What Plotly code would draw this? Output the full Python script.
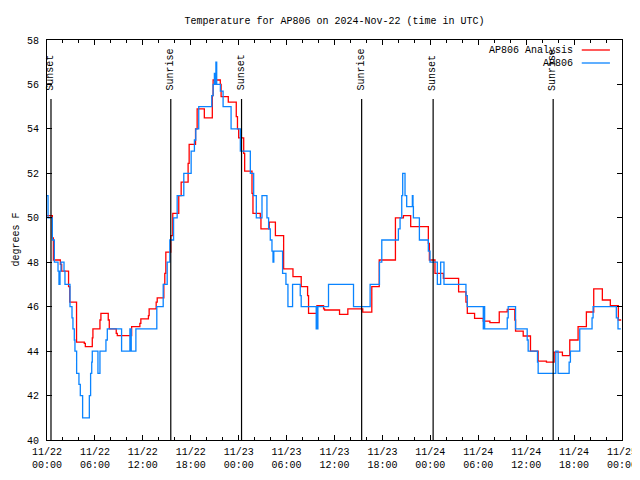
import pandas as pd
import plotly.graph_objects as go

# ---- data (hours after 2024-11-22 00:00 UTC, degrees F) ----
analysis_hours = [0.0, 0.67, 0.8, 1.67, 1.84, 2.7, 2.85, 3.7, 4.67, 4.8, 5.67, 5.75, 6.63, 6.75, 7.67, 7.8,
                  8.67, 8.8, 10.6, 11.63, 11.75, 12.7, 12.79, 13.67, 13.8, 14.63, 14.75, 14.88, 15.5, 15.75,
                  16.5, 16.8, 17.67, 17.8, 18.6, 18.8, 19.7, 20.7, 20.8, 21.7, 21.8, 22.7, 23.7, 23.85, 24.0,
                  24.63, 24.75, 25.67, 25.79, 26.71, 26.79, 27.83, 28.6, 29.63, 30.8, 31.83, 32.63, 32.75,
                  33.8, 34.63, 34.75, 36.63, 37.67, 39.54, 40.67, 41.6, 43.63, 44.63, 45.54, 47.75, 47.88,
                  48.58, 49.63, 51.54, 52.46, 52.63, 53.54, 54.63, 55.46, 56.63, 57.63, 58.58, 58.67, 59.63,
                  60.54, 61.5, 62.54, 63.5, 64.54, 65.46, 66.5, 67.54, 68.46, 69.54, 70.54, 71.54, 71.9]
analysis_temps = [50.1, 49.1, 48.1, 47.9, 47.6, 46.9, 46.2, 44.4, 44.35, 44.2, 44.6, 45.0, 45.4, 45.7, 45.4, 45.0,
                  44.8, 44.7, 45.1, 45.25, 45.45, 45.6, 45.9, 46.2, 46.4, 47.0, 47.5, 48.45, 49.2, 50.2,
                  51.0, 51.6, 52.45, 53.3, 54.0, 54.9, 54.5, 55.5, 56.2, 56.0, 55.45, 55.2, 54.55, 54.0, 53.6,
                  52.9, 52.1, 51.1, 50.2, 50.0, 49.5, 49.8, 49.2, 47.7, 47.35, 46.9, 46.5, 45.7,
                  46.05, 45.9, 45.85, 45.65, 45.9, 45.75, 46.9, 48.1, 50.0, 50.1, 49.6, 48.85, 48.1,
                  47.5, 47.27, 46.67, 46.2, 45.7, 45.47, 45.35, 45.28, 45.77, 45.88, 45.4, 44.9, 44.68,
                  44.0, 43.55, 43.5, 43.95, 43.8, 44.5, 45.1, 45.76, 46.8, 46.3, 46.05, 45.4, 45.4]

obs_hours = [0.0, 0.13, 0.67, 0.92, 1.38, 1.5, 1.63, 1.75, 2.13, 2.25, 2.88, 3.13, 3.25, 3.42, 3.5, 3.71,
             4.0, 4.17, 4.46, 5.3, 5.46, 5.6, 5.67, 6.38, 6.63, 7.38, 7.55, 9.34, 10.38, 10.45, 10.5, 10.55,
             11.13, 13.75, 14.55, 15.05, 15.38, 15.85, 16.3, 17.13, 18.05, 18.46, 18.63, 19.0, 20.63, 20.8,
             20.96, 21.05, 21.15, 21.25, 21.71, 22.05, 23.05, 24.21, 25.46, 25.88, 26.21, 26.92, 27.54,
             27.75, 27.96, 28.17, 28.3, 28.4, 29.5, 29.92, 30.17, 30.75, 31.71, 31.83, 33.71, 33.8, 33.85,
             33.92, 35.25, 38.38, 40.46, 41.63, 41.92, 44.0, 44.21, 44.42, 44.54, 44.83, 45.04, 45.75,
             45.83, 45.88, 46.63, 47.75, 47.96, 48.88, 49.29, 49.71, 52.46, 52.63, 54.63, 54.72, 54.8,
             57.63, 57.75, 58.67, 60.13, 60.25, 61.42, 61.5, 63.71, 64.0, 65.38, 65.54, 66.71, 68.25,
             68.38, 71.29, 71.5, 71.85]
obs_temps = [51, 50, 49, 48, 47.6, 47, 47.6, 48, 47.6, 47, 46, 45.5, 45, 44.5, 44, 43,
             42.5, 42, 41, 42, 43, 43.5, 44, 43, 44, 44.5, 45, 44, 45, 44, 45, 44,
             45, 46, 47, 48, 49, 50, 51, 52, 53, 53.5, 54, 55, 55.5, 56,
             56.5, 56, 57, 56, 55.7, 55, 54, 53, 52, 51, 50, 51, 50,
             49.5, 49, 48.5, 48, 48.5, 47.5, 47, 46, 47, 46.5, 46, 45, 46, 45,
             46, 47, 46, 47, 48, 49, 49.5, 50, 51, 52, 51, 50.5, 51,
             50.5, 50, 49, 48.5, 48, 47, 48, 47, 46.5, 46, 45, 46, 45,
             45.5, 46, 45, 44.5, 44, 43.5, 43, 44, 43, 43.5, 44, 45, 45.5,
             46, 45.5, 45, 45]

sun_event_hours = [0.5, 15.5, 24.36, 39.4, 48.35, 63.38]
sun_event_labels = ["Sunset", "Sunrise", "Sunset", "Sunrise", "Sunset", "Sunrise"]

tick_hours = list(range(0, 73, 6))
tick_labels = ["11/22<br>00:00", "11/22<br>06:00", "11/22<br>12:00", "11/22<br>18:00",
               "11/23<br>00:00", "11/23<br>06:00", "11/23<br>12:00", "11/23<br>18:00",
               "11/24<br>00:00", "11/24<br>06:00", "11/24<br>12:00", "11/24<br>18:00",
               "11/25<br>00:00"]

series_names = ["AP806 Analysis", "AP806"]
series_colors = ["#ff0000", "#0a84ff"]

BASE = pd.Timestamp("2024-11-22 00:00")


def to_time(hours):
    return [BASE + pd.to_timedelta(h, unit="h") for h in hours]


FONT = "Liberation Mono, DejaVu Sans Mono, monospace"

fig = go.Figure()
fig.add_trace(go.Scatter(x=to_time(analysis_hours), y=analysis_temps, mode="lines",
                         line=dict(color=series_colors[0], width=1.3, shape="hv"),
                         name=series_names[0], showlegend=False))
fig.add_trace(go.Scatter(x=to_time(obs_hours), y=obs_temps, mode="lines",
                         line=dict(color=series_colors[1], width=1.3, shape="hv"),
                         name=series_names[1], showlegend=False))

# sunrise / sunset markers
for t, lab in zip(to_time(sun_event_hours), sun_event_labels):
    fig.add_shape(type="line", xref="x", yref="paper", x0=t, x1=t, y0=0, y1=0.8525,
                  line=dict(color="black", width=1.2))
    fig.add_annotation(x=t, xref="x", y=0.868, yref="paper", text=lab, textangle=-90,
                       showarrow=False, xanchor="center", yanchor="bottom",
                       font=dict(family=FONT, size=10, color="black"))

# legend drawn gnuplot-style (text right, sample line on the right)
leg_y = [0.975, 0.9425]
for name, col, yy in zip(series_names, series_colors, leg_y):
    fig.add_annotation(x=0.918, xref="paper", y=yy, yref="paper", text=name, showarrow=False,
                       xanchor="right", yanchor="middle",
                       font=dict(family=FONT, size=10, color="black"))
    fig.add_shape(type="line", xref="paper", yref="paper", x0=0.930, x1=0.979, y0=yy, y1=yy,
                  line=dict(color=col, width=1.3))

# y-axis label (kept inside the figure's left edge)
fig.add_annotation(x=-39 / 575, xref="paper", y=0.5, yref="paper", text="degrees F", textangle=-90,
                   showarrow=False, xanchor="left", yanchor="middle",
                   font=dict(family=FONT, size=10, color="black"))

# the page body has an 8px margin; margins are offset so the plot area lands where the reference has it
fig.update_layout(
    width=640, height=480,
    margin=dict(l=39, r=26, t=32, b=48),
    paper_bgcolor="white", plot_bgcolor="white",
    title=dict(text="Temperature for AP806 on 2024-Nov-22 (time in UTC)",
               x=0.5, xref="paper", y=1 - 12 / 480, yref="container",
               xanchor="center", yanchor="middle",
               font=dict(family=FONT, size=10, color="black")),
    font=dict(family=FONT, size=10, color="black"),
    showlegend=False,
)
fig.update_xaxes(
    type="date", range=[BASE, BASE + pd.Timedelta(hours=72)],
    tickmode="array", tickvals=to_time(tick_hours), ticktext=tick_labels,
    ticks="inside", ticklen=5, tickwidth=1, tickcolor="black",
    minor=dict(ticks="inside", ticklen=3, tickwidth=1, tickcolor="black",
               tickmode="linear", tick0=BASE, dtick=2 * 3600 * 1000),
    showline=True, linecolor="black", linewidth=1, mirror="ticks",
    showgrid=False, zeroline=False, ticklabelstandoff=2, ticklabeloverflow="allow",
    tickfont=dict(family=FONT, size=10, color="black"),
)
fig.update_yaxes(
    range=[40, 58], dtick=2, tick0=40,
    ticks="inside", ticklen=5, tickwidth=1, tickcolor="black",
    showline=True, linecolor="black", linewidth=1, mirror="ticks",
    showgrid=False, zeroline=False, ticklabelstandoff=5,
    tickfont=dict(family=FONT, size=10, color="black"),
)

fig.write_html("out.html", config={"displayModeBar": False})
